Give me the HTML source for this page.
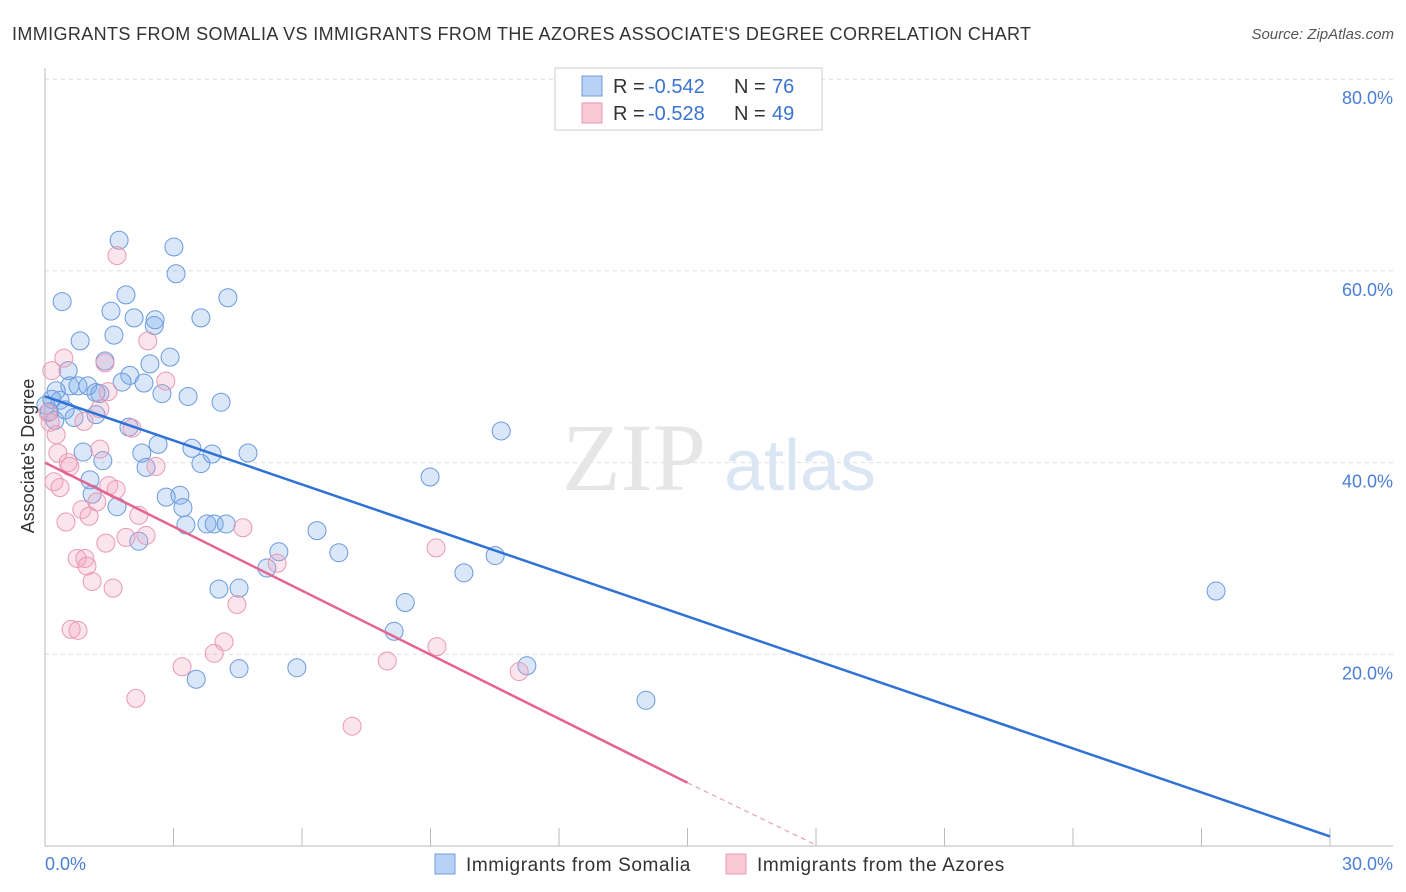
<!DOCTYPE html>
<html><head><meta charset="utf-8"><style>
body{margin:0;background:#fff;font-family:"Liberation Sans",sans-serif}
svg{display:block}
</style></head><body>
<svg width="1406" height="892" xmlns="http://www.w3.org/2000/svg">
<text x="12" y="40" font-size="18" fill="#333" letter-spacing="0.38">IMMIGRANTS FROM SOMALIA VS IMMIGRANTS FROM THE AZORES ASSOCIATE'S DEGREE CORRELATION CHART</text>
<text x="1394" y="39" font-size="15" fill="#555" text-anchor="end" font-style="italic">Source: ZipAtlas.com</text>
<g id="grid"></g>
<text x="634" y="490" font-size="96" fill="#e6e6e6" font-family="Liberation Serif" text-anchor="middle">ZIP</text>
<text x="800" y="490" font-size="72" fill="#dbe6f5" text-anchor="middle">atlas</text>
<g id="axes"></g>
<g id="pts"></g>
<g id="lines"></g>
<text transform="translate(34,456) rotate(-90)" font-size="18" fill="#333" text-anchor="middle">Associate's Degree</text>
<text x="45" y="870" font-size="18" fill="#4a7fd4">0.0%</text>
<text x="1393" y="870" font-size="18" fill="#4a7fd4" text-anchor="end">30.0%</text>
<g>
<rect x="555" y="68" width="267" height="62" fill="#fff" stroke="#ccc"/>
<rect x="582" y="76" width="20" height="20" fill="#b8d2f5" stroke="#6f9ee0"/>
<rect x="582" y="103" width="20" height="20" fill="#f9c9d8" stroke="#ea97b2"/>
<text x="613" y="93" font-size="20" fill="#333">R = </text>
<text x="648" y="93" font-size="20" fill="#3a74cf">-0.542</text>
<text x="734" y="93" font-size="20" fill="#333">N = </text>
<text x="772" y="93" font-size="20" fill="#3a74cf">76</text>
<text x="613" y="120" font-size="20" fill="#333">R = </text>
<text x="648" y="120" font-size="20" fill="#3a74cf">-0.528</text>
<text x="734" y="120" font-size="20" fill="#333">N = </text>
<text x="772" y="120" font-size="20" fill="#3a74cf">49</text>
</g>
<g>
<rect x="435" y="854" width="20" height="20" fill="#b8d2f5" stroke="#6f9ee0"/>
<text x="466" y="871" font-size="19" fill="#333" letter-spacing="0.6">Immigrants from Somalia</text>
<rect x="726" y="854" width="20" height="20" fill="#f9c9d8" stroke="#ea97b2"/>
<text x="757" y="871" font-size="19" fill="#333" letter-spacing="0.6">Immigrants from the Azores</text>
</g>
</svg>
<script>
const yTicks=[20,40,60,80];
const xTicks=[0,3,6,9,12,15,18,21,24,27,30];
const somaliaX=[1.73,3.01,3.06,0.40,1.89,4.27,1.54,2.08,2.57,3.64,2.55,1.61,0.82,2.92,2.45,1.40,1.98,0.54,1.80,2.31,0.58,0.77,1.00,2.73,3.34,0.26,1.19,1.28,4.11,0.16,0.35,0.02,0.47,0.68,1.19,0.23,10.65,1.96,2.64,3.43,0.89,2.26,3.90,4.74,1.35,2.36,3.64,8.99,1.05,1.10,3.15,2.83,1.68,3.22,3.29,3.78,3.95,4.23,6.35,2.19,5.46,6.86,10.51,5.18,9.78,4.06,4.53,27.34,8.41,8.15,11.25,5.88,4.53,3.53,14.03,0.1];
const somaliaY=[63.2,62.5,59.7,56.8,57.5,57.2,55.8,55.1,54.9,55.1,54.3,53.3,52.7,51.0,50.3,50.6,49.1,49.6,48.4,48.3,48.0,48.0,48.0,47.2,46.9,47.5,47.3,47.2,46.3,46.6,46.5,46.0,45.5,44.7,45.0,44.4,43.3,43.7,41.9,41.5,41.1,41.0,40.9,41.0,40.2,39.5,39.9,38.5,38.2,36.7,36.6,36.4,35.4,35.3,33.5,33.6,33.6,33.6,32.9,31.8,30.7,30.6,30.3,29.0,28.5,26.8,26.9,26.6,25.4,22.4,18.8,18.6,18.5,17.4,15.2,45.3];
const azoresX=[1.68,0.44,0.16,1.40,2.40,2.82,1.47,1.28,0.07,0.12,0.91,0.26,2.03,0.30,1.28,0.54,0.58,2.59,0.21,0.35,1.49,1.66,1.21,0.86,1.03,2.19,0.49,4.62,1.89,2.36,1.42,9.13,0.75,0.93,0.98,5.42,1.10,1.59,4.48,0.61,0.77,4.18,3.95,9.15,7.99,3.20,11.07,2.12,7.17];
const azoresY=[61.6,50.9,49.6,50.4,52.7,48.5,47.4,45.6,45.2,44.2,44.3,42.9,43.6,41.0,41.4,40.0,39.6,39.6,38.0,37.4,37.6,37.2,35.9,35.1,34.4,34.5,33.8,33.2,32.2,32.4,31.6,31.1,30.0,30.0,29.2,29.5,27.6,26.9,25.2,22.6,22.5,21.3,20.1,20.8,19.3,18.7,18.2,15.4,12.5];
const somaliaTrend=[[0,46.9],[30,1.0]];
const azoresTrend=[[0,40.0],[15,6.6]];
const azoresDash=[[15,6.6],[18,0.1]];
const NS='http://www.w3.org/2000/svg';
const sx=v=>45+v*(1330-45)/30;
const sy=v=>846-v*9.585;
function mk(t,a,p){const e=document.createElementNS(NS,t);for(const k in a)e.setAttribute(k,a[k]);p.appendChild(e);return e;}
const grid=document.getElementById('grid'),axes=document.getElementById('axes'),pts=document.getElementById('pts'),lines=document.getElementById('lines');
yTicks.forEach(v=>{
 const l=mk('line',{x1:45,x2:1393,y1:sy(v),y2:sy(v),stroke:'#ddd','stroke-dasharray':'4,4'},grid);
 
 
 const t=mk('text',{x:1393,y:sy(v)+25,'font-size':18,fill:'#4a7fd4','text-anchor':'end'},grid);
 t.textContent=v.toFixed(1)+'%';
 
 
});
const ax=mk('line',{x1:45,x2:1393,y1:846,y2:846,stroke:'#bbb'},axes);


const ay=mk('line',{x1:45,x2:45,y1:68,y2:846,stroke:'#bbb'},axes);


xTicks.forEach(v=>{
 const t=mk('line',{x1:sx(v),x2:sx(v),y1:828,y2:846,stroke:'#bbb'},axes);
 
 
});
function dots(X,Y,fill,stroke,name){X.forEach((x,i)=>{
 const c=mk('circle',{cx:sx(x),cy:sy(Y[i]),r:9,fill:fill,stroke:stroke,'stroke-width':1},pts);
 
 
});}
dots(somaliaX,somaliaY,'rgba(120,170,235,0.28)','#6b9ade','somalia-point');
dots(azoresX,azoresY,'rgba(242,160,188,0.28)','#ea98b3','azores-point');
function ln(p,col,w,dash,name){
 const l=mk('line',{x1:sx(p[0][0]),y1:sy(p[0][1]),x2:sx(p[1][0]),y2:sy(p[1][1]),stroke:col,'stroke-width':w},lines);
 if(dash)l.setAttribute('stroke-dasharray',dash);
 
 
}
ln(somaliaTrend,'#2f72d6',2.5,null,'somalia-trend-line');
ln(azoresTrend,'#e5658f',2.5,null,'azores-trend-line');
ln(azoresDash,'#e5a0b8',1.2,'5,4','azores-trend-extension');
</script>
</body></html>
